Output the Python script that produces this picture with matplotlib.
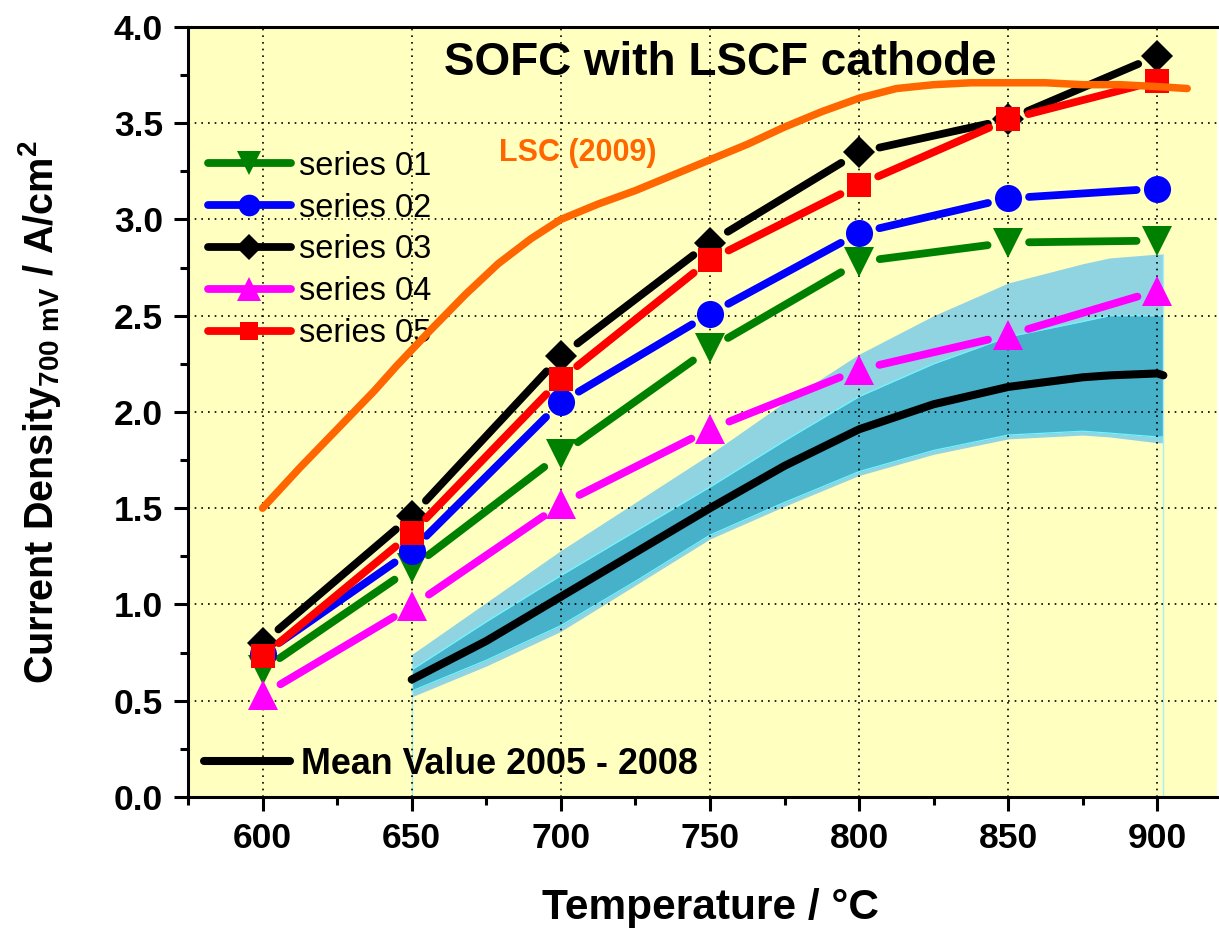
import matplotlib
matplotlib.use('Agg')
import matplotlib.pyplot as plt
from matplotlib.lines import Line2D
from matplotlib.patches import FancyArrowPatch
from matplotlib.ticker import MultipleLocator

plt.rcParams['font.family'] = ['Liberation Sans', 'DejaVu Sans']
plt.rcParams['mathtext.fontset'] = 'custom'
plt.rcParams['mathtext.rm'] = 'Liberation Sans:bold'
plt.rcParams['mathtext.bf'] = 'Liberation Sans:bold'

# measured series (700 mV)
temps = [600, 650, 700, 750, 800, 850, 900]
series_01 = [0.66, 1.19, 1.78, 2.33, 2.78, 2.88, 2.89]
series_02 = [0.74, 1.28, 2.05, 2.51, 2.93, 3.11, 3.16]
series_03 = [0.80, 1.46, 2.29, 2.88, 3.35, 3.52, 3.85]
series_04 = [0.53, 0.99, 1.52, 1.91, 2.22, 2.40, 2.63]
series_05 = [0.73, 1.37, 2.17, 2.79, 3.18, 3.52, 3.72]

# LSC (2009) reference curve
lsc_temps = [600, 612.5, 625, 637.5, 645, 656, 668, 679, 690, 700, 712.5, 725, 737.5, 750,
             762.5, 775, 787.5, 800, 812.5, 825, 837.5, 850, 862.5, 875, 887.5, 900, 910]
lsc_vals = [1.50, 1.71, 1.91, 2.11, 2.24, 2.42, 2.61, 2.77, 2.90, 3.00, 3.08, 3.15, 3.23, 3.31,
            3.39, 3.48, 3.56, 3.63, 3.68, 3.70, 3.71, 3.71, 3.71, 3.70, 3.70, 3.69, 3.68]

# mean value 2005 - 2008 with scatter bands
mean_temps = [650, 675, 700, 725, 750, 775, 800, 825, 850, 875, 884, 900, 902]
mean_vals = [0.61, 0.81, 1.04, 1.27, 1.50, 1.72, 1.91, 2.04, 2.13, 2.18, 2.19, 2.20, 2.19]
outer_upper = [0.74, 1.01, 1.28, 1.53, 1.78, 2.05, 2.30, 2.50, 2.67, 2.77, 2.80, 2.82, 2.82]
outer_lower = [0.52, 0.68, 0.86, 1.10, 1.34, 1.51, 1.67, 1.78, 1.86, 1.88, 1.87, 1.84, 1.84]
inner_upper = [0.66, 0.91, 1.15, 1.38, 1.61, 1.85, 2.08, 2.25, 2.39, 2.47, 2.50, 2.50, 2.50]
inner_lower = [0.55, 0.71, 0.89, 1.12, 1.36, 1.53, 1.69, 1.80, 1.88, 1.90, 1.89, 1.87, 1.87]

bg = '#FFFFC0'
fig = plt.figure(figsize=(12.19, 9.32), dpi=100)
ax = fig.add_axes([0.1542, 0.1449, 0.8442, 0.8262])
ax.set_facecolor(bg)

# bands
ax.fill_between(mean_temps, outer_lower, outer_upper, color='#90D4E1', lw=0, zorder=1)
ax.fill_between(mean_temps, inner_lower, inner_upper, color='#46B1C9', lw=0, zorder=1.1)
for edge in [inner_upper, inner_lower]:
    ax.plot(mean_temps, edge, color='#6FF5FF', lw=0.9, zorder=1.2)
ax.vlines([mean_temps[0], mean_temps[-1]], 0, [outer_upper[0], outer_upper[-1]],
          color='#A8EEF4', lw=1.0, zorder=1.2)
ax.plot(mean_temps, mean_vals, color='black', lw=5.8, solid_capstyle='round',
        solid_joinstyle='round', zorder=1.5)

# series, line segments stop short of the markers
series = [series_01, series_02, series_03, series_04, series_05]
colors = ['#008000', '#0000FF', '#000000', '#FF00FF', '#FF0000']
markers = ['v', 'o', 'D', '^', 's']
sizes = [21, 19.5, 16.3, 21, 16.8]
labels = ['series 01', 'series 02', 'series 03', 'series 04', 'series 05']

for i, vals in enumerate(series):
    z = 3 + i
    for k in range(len(temps) - 1):
        seg = FancyArrowPatch((temps[k], vals[k]), (temps[k + 1], vals[k + 1]),
                              arrowstyle='-', shrinkA=15, shrinkB=15,
                              lw=5.6, color=colors[i], capstyle='round', zorder=z)
        ax.add_patch(seg)
    ax.plot(temps, vals, ls='none', marker=markers[i], ms=sizes[i],
            color=colors[i], mew=0, zorder=z + 0.5)

# LSC curve
ax.plot(lsc_temps, lsc_vals, color='#FF6600', lw=5.4, solid_capstyle='round',
        solid_joinstyle='round', zorder=8)
ax.text(0.379, 0.836, 'LSC (2009)', transform=ax.transAxes, color='#FF6600',
        fontsize=22, fontweight='bold', ha='center', va='center')

ax.text(0.517, 0.953, 'SOFC with LSCF cathode', transform=ax.transAxes,
        fontsize=33, fontweight='bold', ha='center', va='center', zorder=10)

# legends
handles = [Line2D([], [], color=colors[i], lw=5.6, marker=markers[i], ms=sizes[i] * 0.8,
                  mew=0, solid_capstyle='round') for i in range(5)]
leg = ax.legend(handles, labels, loc='upper left', bbox_to_anchor=(0.019, 0.839),
                frameon=False, borderpad=0, borderaxespad=0, handlelength=2.55,
                handletextpad=0.25, labelspacing=0.33, prop={'size': 23.5}, numpoints=1)
ax.add_artist(leg)
mean_handle = Line2D([], [], color='black', lw=5.8, solid_capstyle='round')
ax.legend([mean_handle], ['Mean Value 2005 - 2008'], loc='lower left',
          bbox_to_anchor=(0.016, 0.02), frameon=False, borderpad=0, borderaxespad=0,
          handlelength=2.4, handletextpad=0.3,
          prop={'size': 25.8, 'weight': 'bold'})

# axes
ax.set_xlim(575, 920)
ax.set_ylim(0, 4.0)
ax.xaxis.set_major_locator(MultipleLocator(50))
ax.xaxis.set_minor_locator(MultipleLocator(25))
ax.yaxis.set_major_locator(MultipleLocator(0.5))
ax.yaxis.set_minor_locator(MultipleLocator(0.25))
ax.set_yticks([0, 0.5, 1.0, 1.5, 2.0, 2.5, 3.0, 3.5, 4.0])
ax.set_yticklabels(['0.0', '0.5', '1.0', '1.5', '2.0', '2.5', '3.0', '3.5', '4.0'])
ax.grid(True, which='major', color='black', ls=(0, (1, 3)), lw=1.2)
ax.tick_params(which='major', direction='out', length=10, width=2.2, labelsize=25.5, pad=8)
ax.tick_params(which='minor', direction='out', length=6, width=2.2)
for lab in ax.get_xticklabels() + ax.get_yticklabels():
    lab.set_fontweight('bold')
for s in ['left', 'bottom', 'top']:
    ax.spines[s].set_linewidth(2.2)
ax.spines['right'].set_visible(False)

ax.set_xlabel('Temperature / °C', fontsize=30.5, fontweight='bold')
ax.xaxis.set_label_coords(0.508, -0.144)
ax.xaxis.label.set_va('center')
ax.set_ylabel('Current Density$_{\\mathbf{700\\ mV}}$ / A/cm$^{\\mathbf{2}}$',
              fontsize=28.5, fontweight='bold')
ax.yaxis.set_label_coords(-0.144, 0.5)
ax.yaxis.label.set_va('center')

fig.savefig('out.png', dpi=100)
